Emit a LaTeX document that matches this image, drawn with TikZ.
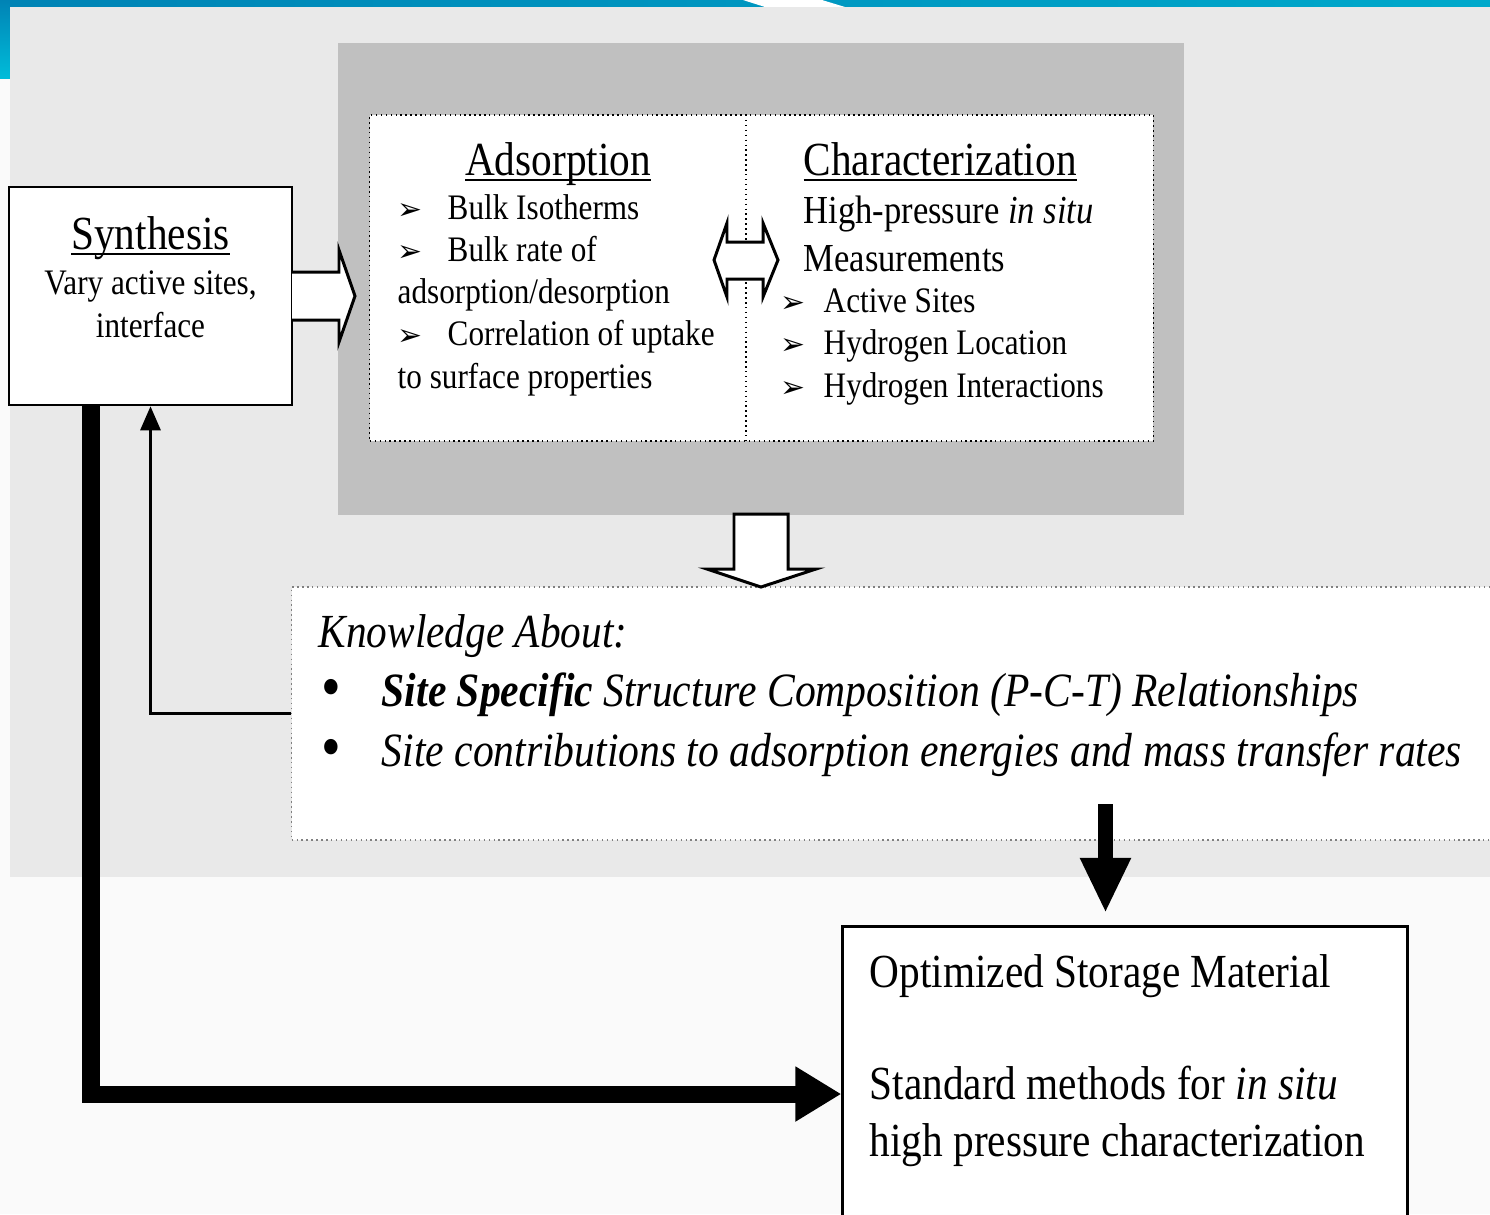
\documentclass[tikz,border=0pt]{standalone}
\usepackage{fontspec}
\setmainfont{Liberation Serif}[FakeStretch=0.87]
\newfontfamily\symfont{DejaVu Sans}
\usepackage{xcolor}
\usetikzlibrary{arrows.meta,positioning,calc}

\definecolor{topblueA}{HTML}{0083B5}
\definecolor{topblueB}{HTML}{00A9CB}
\definecolor{stripB}{HTML}{00BCD9}
\definecolor{panelgrey}{HTML}{E9E9E9}
\definecolor{darkpanel}{HTML}{C0C0C0}
\definecolor{pagewhite}{HTML}{FAFAFA}

\newcommand\bigsize{\fontsize{13.5}{16.2}\selectfont}
\newcommand\midsize{\fontsize{11.3}{13.4}\selectfont}
\newcommand\bodysize{\fontsize{10.2}{11.95}\selectfont}
\newcommand\arrsym{{\symfont\fontsize{8.5}{8.5}\selectfont ➢}}
\newcommand\dotsym{\raisebox{-0.05em}{\scalebox{1.35}{\upshape•}}}
\newcommand\headline[1]{\underline{\smash{#1}}}

\begin{document}
\begin{tikzpicture}[
    x=0.01cm, y=-0.01cm,
    line join=miter,
    >=Stealth,
    box/.style={draw, fill=white, inner sep=0pt},
    txt/.style={inner sep=0pt, anchor=base west, align=left},
    blockarrow/.style={draw, fill=white, line width=0.85pt},
    thinarrow/.style={line width=0.03cm, -{Triangle[length=0.24cm, width=0.2cm]}},
    heavyarrow/.style={line width=0.17cm}
]
    \useasboundingbox (0,0) rectangle (1490,1214);

    % Slide background
    \fill[pagewhite] (0,0) rectangle (1490,1214);
    \shade[left color=topblueA, right color=topblueB] (0,0) rectangle (1490,7);
    \fill[white] (743,0) -- (822,0) -- (845,7) -- (765,7) -- cycle;
    \shade[top color=topblueA, bottom color=stripB] (0,0) rectangle (10,78);
    \fill[panelgrey] (10,7) rectangle (1490,877);
    \fill[darkpanel] (338,43) rectangle (1184,515);

    % Boxes
    \node[box, line width=0.7pt, minimum width=2.83cm, minimum height=2.18cm] (synth) at (150.5,296) {};
    \node[box, densely dotted, minimum width=7.83cm, minimum height=3.26cm] (study) at (761.5,278) {};
    \coordinate (divtop) at (746,115);
    \coordinate (divbot) at (746,441);
    \draw[densely dotted] (divtop) -- (divbot);
    \node[box, draw=gray, densely dotted, minimum width=12.08cm, minimum height=2.53cm] (know) at (896,713.5) {};
    \node[box, line width=0.85pt, minimum width=5.64cm, minimum height=3.34cm] (opt) at (1125,1094) {};

    % Synthesis (multi-line nodes sit on their last baseline)
    \node[font=\bigsize, inner sep=0pt, anchor=base] (synthhead) at (150.5,249) {\headline{Synthesis}};
    \node[font=\bodysize, inner sep=0pt, anchor=base, align=center] (synthsub) at (150.5,337) {Vary active sites,\\interface};

    % Adsorption
    \node[font=\bigsize, inner sep=0pt, anchor=base] (adshead) at (558,175) {\headline{Adsorption}};
    \node[txt, font=\bodysize] (adsitems) at (397,388) {\makebox[0.5cm][l]{\arrsym}Bulk Isotherms\\
        \makebox[0.5cm][l]{\arrsym}Bulk rate of\\
        adsorption/desorption\\
        \makebox[0.5cm][l]{\arrsym}Correlation of uptake\\
        to surface properties};

    % Characterization
    \node[txt, font=\bigsize] (charhead) at (803,175) {\headline{Characterization}};
    \node[txt, font=\midsize] (charsub) at (803,271) {High-pressure \textit{in situ}\\Measurements};
    \node[txt, font=\bodysize] (charitems) at (780,397) {\makebox[0.43cm][l]{\arrsym}Active Sites\\
        \makebox[0.43cm][l]{\arrsym}Hydrogen Location\\
        \makebox[0.43cm][l]{\arrsym}Hydrogen Interactions};

    % Knowledge
    \node[txt, font=\bigsize\itshape] (knowhead) at (318,647) {Knowledge About:};
    \node[txt, font={\fontsize{13.6}{17}\selectfont\itshape}] (knowitems) at (318,766) {\makebox[0.63cm][l]{\hspace{0.03cm}\dotsym}\textbf{Site Specific} Structure Composition (P-C-T) Relationships\\
        \makebox[0.63cm][l]{\hspace{0.03cm}\dotsym}Site contributions to adsorption energies and mass transfer rates};

    % Result
    \node[txt, font=\bigsize] (opttext) at (869,1156) {Optimized Storage Material\\[15.4pt]
        Standard methods for \textit{in situ}\\
        high pressure characterization};

    % Block arrows
    \draw[blockarrow] (292,272) -- (339,272) -- (339,250) -- (355,296) -- (339,342) -- (339,320) -- (292,320);
    \draw[blockarrow] (714,260) -- (727,223) -- (727,242) -- (763,242) -- (763,223) -- (778,260)
        -- (763,297) -- (763,279) -- (727,279) -- (727,297) -- cycle;
    \draw[blockarrow] (734,514) -- (788,514) -- (788,569) -- (816,569) -- (761,587) -- (707,569) -- (734,569) -- cycle;

    % Connectors
    \draw[thinarrow] (know.west) -| (synth.south);
    \coordinate (loopstart) at (91,405);
    \draw[heavyarrow, -{Triangle[length=0.46cm, width=0.52cm]}] (loopstart) |- (opt.west);
    \coordinate (knowout) at (1105.5,804);
    \coordinate (optin) at (1105.5,913);
    \draw[line width=0.15cm, -{Triangle[length=0.55cm, width=0.47cm]}] (knowout) -- (optin);

\end{tikzpicture}
\end{document}
